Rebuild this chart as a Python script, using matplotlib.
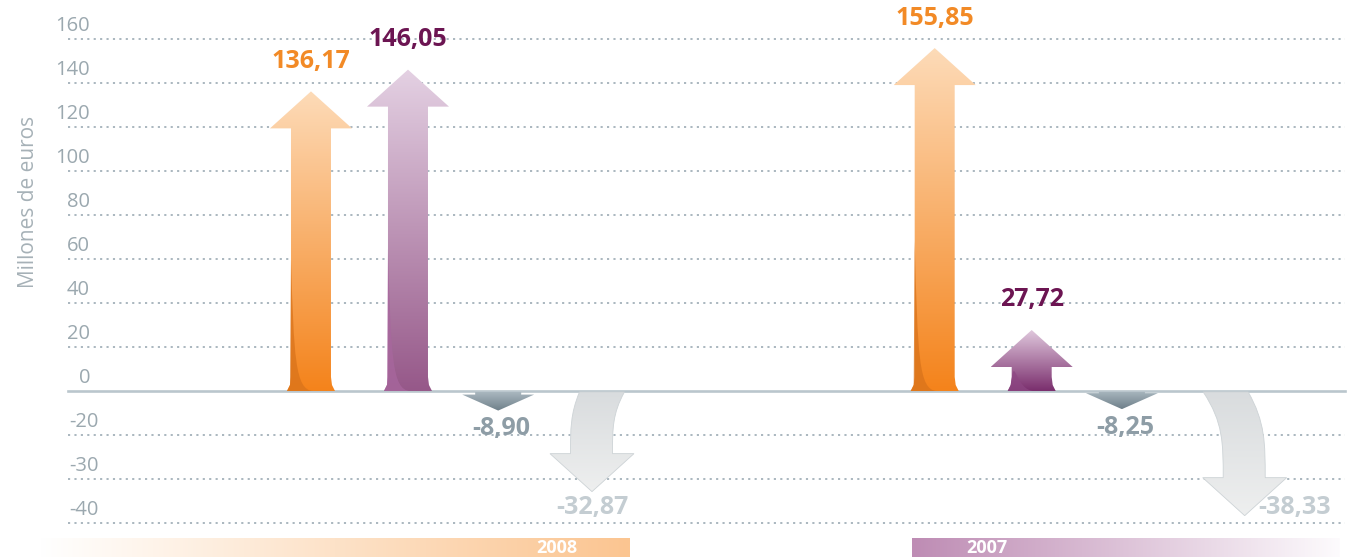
import numpy as np
import matplotlib
matplotlib.use("Agg")
import matplotlib.pyplot as plt
from matplotlib.path import Path
from matplotlib.patches import PathPatch
from matplotlib.colors import LinearSegmentedColormap
import matplotlib.transforms as mtrans

# ---------------- data ----------------
years = ["2008", "2007"]
series = ["naranja", "morado", "gris", "gris claro"]
values_2008 = [136.17, 146.05, -8.90, -32.87]
values_2007 = [155.85, 27.72, -8.25, -38.33]
ytick_values = [160, 140, 120, 100, 80, 60, 40, 20, 0, -20, -30, -40]
ytick_labels = ["160", "140", "120", "100", "80", "60", "40", "20", "0", "-20", "-30", "-40"]
ylabel = "Millones de euros"

# ---------------- layout / style ----------------
W, H = 1354, 559
slot_offsets = [0.0, 1.0, 1.93, 3.0]
group_offsets = [0.0, 6.43]
plt.rcParams["font.family"] = ["Open Sans", "DejaVu Sans"]

def fwd(y):
    y = np.asarray(y, dtype=float)
    return np.where(y >= -20, y, -20 + (y + 20) * 2)

def inv(v):
    v = np.asarray(v, dtype=float)
    return np.where(v >= -20, v, -20 + (v + 20) / 2)

fig = plt.figure(figsize=(W / 100, H / 100), dpi=100)
fig.patch.set_facecolor("white")
ax = fig.add_axes([0, 0, 1, 1])
ax.set_yscale("function", functions=(fwd, inv))
ax.set_xlim(-3.206, -3.206 + W / 97.0)
ax.set_ylim(-48.18, 177.7)
ax.axis("off")

# pixel canvas for the drawn shapes (row coordinates, top-down)
cv = fig.add_axes([0, 0, 1, 1], facecolor="none")
cv.axis("off")

def px(x, y):
    d = ax.transData.transform((x, y))
    return d[0], H - d[1]

# grid lines
grid_color = "#aab7bf"
for v in ytick_values:
    if v == 0:
        ax.axhline(v, xmin=0.0502, xmax=0.9934, color="#bac6cd", lw=1.9, zorder=3)
    else:
        ax.axhline(v, xmin=0.0502, xmax=0.9934, color=grid_color, lw=1.4,
                   linestyle=(0, (1.1, 2.2)), zorder=1)

tick_tr = mtrans.offset_copy(mtrans.blended_transform_factory(ax.transAxes, ax.transData),
                             fig=fig, x=0, y=8, units="dots")
for v, lab in zip(ytick_values, ytick_labels):
    if v >= 0:
        ax.text(90 / W, v, lab, transform=tick_tr, ha="right", va="baseline",
                fontsize=14.5, color="#9ba8af")
    else:
        ax.text(69 / W, v, lab, transform=tick_tr, ha="left", va="baseline",
                fontsize=14.5, color="#9ba8af")

fig.text(29 / W, 1 - 202 / H, ylabel, rotation=90, ha="center", va="center",
         fontsize=15, color="#a6b1b7")


def grad_fill(path, colors, extent, vertical=True, z=5, edge=None, lw=0.0):
    patch = PathPatch(path, facecolor="none", edgecolor="none", zorder=z)
    cv.add_patch(patch)
    cmap = LinearSegmentedColormap.from_list("g", colors)
    if vertical:
        arr = np.linspace(0, 1, 256).reshape(-1, 1)
    else:
        arr = np.linspace(0, 1, 256).reshape(1, -1)
    x0, x1, r0, r1 = extent
    im = cv.imshow(arr, cmap=cmap, extent=[x0, x1, r1, r0], aspect="auto",
                   interpolation="bilinear", zorder=z, origin="upper")
    im.set_clip_path(patch)
    if edge:
        cv.add_patch(PathPatch(path, facecolor="none", edgecolor=edge, lw=lw, zorder=z + 0.1))


def up_arrow(cx, tip, base, colors, dark, sw=20, hw=41, hh=37):
    verts = [(cx - sw - 4, base), (cx - sw - 1, base - 6), (cx - sw, base - 14),
             (cx - sw, tip + hh), (cx - hw, tip + hh), (cx, tip), (cx + hw, tip + hh),
             (cx + sw, tip + hh), (cx + sw, base - 14), (cx + sw + 1, base - 6),
             (cx + sw + 4, base), (cx - sw - 4, base)]
    codes = [Path.MOVETO] + [Path.LINETO] * (len(verts) - 2) + [Path.CLOSEPOLY]
    p = Path(verts, codes)
    grad_fill(p, colors, (cx - hw, cx + hw, tip, base), z=5)
    # darker sliver at the lower left of the shaft
    ys = base - min(0.5 * (base - tip - hh), 150)
    sv = [(cx - sw, ys), (cx - sw - 1, base - 6), (cx - sw - 4, base), (cx + 0.1 * sw, base),
          (cx - sw + 4, base - 1), (cx - sw + 3, base - 35), (cx - sw, ys)]
    sc = [Path.MOVETO, Path.LINETO, Path.LINETO, Path.LINETO,
          Path.CURVE4, Path.CURVE4, Path.CURVE4]
    cv.add_patch(PathPatch(Path(sv, sc), facecolor=dark, edgecolor="none", alpha=0.75, zorder=5.5))


def small_down(cx, tip, base, colors, sw=23, hw=36, hh=16):
    hb = tip - hh
    verts = [(cx - sw, base), (cx - sw, hb), (cx - hw, hb), (cx, tip), (cx + hw, hb),
             (cx + sw, hb), (cx + sw, base), (cx - sw, base)]
    codes = [Path.MOVETO] + [Path.LINETO] * 6 + [Path.CLOSEPOLY]
    grad_fill(Path(verts, codes), colors, (cx - hw, cx + hw, base, tip), z=5)


def curved_down(cx, tip, base, shift, colors, sw=45, hw=42, hh=38):
    xb = cx + shift
    hb = tip - hh
    L = hb - base
    xl0, xr0 = cx - sw / 2, cx + sw / 2
    xl1, xr1 = xb - sw / 2 + 1, xb + sw / 2 - 2
    verts = [(xl0, base), (xl1, base + 0.35 * L), (xl1, base + 0.6 * L), (xl1, hb),
             (xb - hw, hb), (xb, tip), (xb + hw, hb), (xr1, hb),
             (xr1, base + 0.6 * L), (xr1, base + 0.35 * L), (xr0, base), (xl0, base)]
    codes = [Path.MOVETO, Path.CURVE4, Path.CURVE4, Path.CURVE4,
             Path.LINETO, Path.LINETO, Path.LINETO, Path.LINETO,
             Path.CURVE4, Path.CURVE4, Path.CURVE4, Path.CLOSEPOLY]
    p = Path(verts, codes)
    grad_fill(p, colors, (xb - hw - 20, xb + hw + 20, base, tip), z=5,
              edge="#cdd3d6", lw=0.6)


def fmt(v):
    return f"{v:.2f}".replace(".", ",")


orange_cols = ["#fddbb8", "#f4831b"]
purple_cols = [["#e4d1e3", "#965889"], ["#e0c8dd", "#7a2e6d"]]
purple_dark = ["#a8679e", "#8d4783"]
gray_cols = ["#a9b7bf", "#6e7f89"]
light_cols = ["#d9dcde", "#eeefef"]
curve_shift = [-10, 19]

for g, vals in enumerate([values_2008, values_2007]):
    xs = [group_offsets[g] + s for s in slot_offsets]
    _, base = px(xs[0], 0)
    # orange
    cx, tip = px(xs[0], vals[0])
    up_arrow(cx, tip, base, orange_cols, "#d9731b")
    cv.text(cx, tip - 30, fmt(vals[0]), ha="center", va="center", fontsize=18,
            fontweight="bold", color="#f28a26", zorder=8)
    # purple
    cx, tip = px(xs[1], vals[1])
    up_arrow(cx, tip, base, purple_cols[g], purple_dark[g])
    cv.text(cx, tip - 30, fmt(vals[1]), ha="center", va="center", fontsize=18,
            fontweight="bold", color="#6c1552", zorder=8)
    # small gray down arrow
    cx, tip = px(xs[2], vals[2])
    small_down(cx, tip, base + 1, gray_cols)
    cv.text(cx + 3, tip + 18, fmt(vals[2]), ha="center", va="center", fontsize=18,
            fontweight="bold", color="#8e9da6", zorder=8)
    # curved light gray arrow
    cx, tip = px(xs[3], vals[3])
    curved_down(cx, tip, base + 1, curve_shift[g], light_cols)
    if g == 0:
        cv.text(cx + curve_shift[g], tip + 16, fmt(vals[3]), ha="center", va="center",
                fontsize=18, fontweight="bold", color="#c4cdd2", zorder=8)
    else:
        cv.text(cx + curve_shift[g] + 50, tip - 8, fmt(vals[3]), ha="center", va="center",
                fontsize=18, fontweight="bold", color="#c4cdd2", zorder=8)

# year bands
bands = [(40, 630, ["#ffffff", "#fbc591"]), (912, 1340, ["#be8cb4", "#fdfbfd"])]
year_x = [557, 987]
for (x0, x1, cols), yr, tx in zip(bands, years, year_x):
    rect = Path([(x0, 538), (x1, 538), (x1, 557), (x0, 557), (x0, 538)],
                [Path.MOVETO, Path.LINETO, Path.LINETO, Path.LINETO, Path.CLOSEPOLY])
    grad_fill(rect, cols, (x0, x1, 538, 557), vertical=False, z=2)
    cv.text(tx, 548, yr, ha="center", va="center", fontsize=13, fontweight="bold",
            color="white", zorder=8)

cv.set_xlim(0, W)
cv.set_ylim(H, 0)

fig.savefig("out.png", dpi=100)
